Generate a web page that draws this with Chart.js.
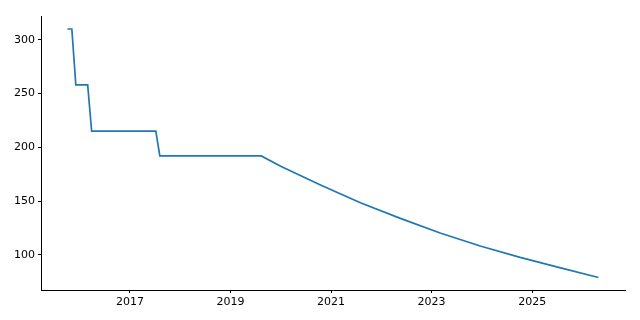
<!DOCTYPE html>
<html lang="en">
<head>
  <meta charset="UTF-8" />
  <title>Price over time</title>
  <script src="https://cdn.jsdelivr.net/npm/chart.js"></script>
  <style>
    html, body { margin: 0; padding: 0; background: #ffffff; }
    #wrap { width: 640px; height: 320px; }
  </style>
</head>
<body>
  <div id="wrap"><canvas id="priceChart" width="640" height="320"></canvas></div>

  <script>
    // values
    const dates = [
      '2015-10-05', '2015-11-06', '2015-12-05', '2016-02-29', '2016-03-29',
      '2017-07-08', '2017-08-06', '2019-08-13', '2020-01-01', '2020-10-16',
      '2021-08-02', '2022-05-19', '2023-03-04', '2023-12-20', '2024-10-05',
      '2025-07-19', '2026-04-27'
    ];
    const prices = [
      310, 310, 258, 258, 215,
      215, 192, 192, 182.4, 165.1,
      148.5, 134, 120.4, 108.3, 97.7,
      88.2, 79
    ];
    const xTickYears = ['2017', '2019', '2021', '2023', '2025'];
    const yTicks = [100, 150, 200, 250, 300];
    const xRange = ['2015-03-27', '2026-11-06'];
    const yRange = [67.4, 322.1];

    const toTime = s => Date.parse(s + 'T00:00:00Z');
    const points = dates.map((d, i) => ({ x: toTime(d), y: prices[i] }));

    const font = { family: 'DejaVu Sans', size: 11 };

    new Chart(document.getElementById('priceChart'), {
      type: 'line',
      data: {
        datasets: [{
          data: points,
          borderColor: '#1f77b4',
          borderWidth: 1.7,
          pointRadius: 0,
          tension: 0,
          fill: false
        }]
      },
      options: {
        responsive: false,
        animation: false,
        layout: { padding: { left: 0, right: 15, top: 16, bottom: 0 } },
        plugins: { legend: { display: false }, tooltip: { enabled: false } },
        scales: {
          x: {
            type: 'linear',
            min: toTime(xRange[0]),
            max: toTime(xRange[1]),
            afterBuildTicks: axis => {
              axis.ticks = xTickYears.map(y => ({ value: toTime(y + '-01-01') }));
            },
            afterFit: axis => { axis.height = 30; },
            grid: { drawOnChartArea: false, drawTicks: true, tickLength: 3, color: '#000' },
            border: { display: true, color: '#000', width: 1 },
            ticks: {
              color: '#000', font, padding: 3, maxRotation: 0,
              callback: v => String(new Date(v).getUTCFullYear())
            }
          },
          y: {
            min: yRange[0],
            max: yRange[1],
            afterBuildTicks: axis => {
              axis.ticks = yTicks.map(v => ({ value: v }));
            },
            afterFit: axis => { axis.width = 41; },
            grid: { drawOnChartArea: false, drawTicks: true, tickLength: 3, color: '#000' },
            border: { display: true, color: '#000', width: 1 },
            ticks: { color: '#000', font, padding: 3 }
          }
        }
      }
    });
  </script>
</body>
</html>
